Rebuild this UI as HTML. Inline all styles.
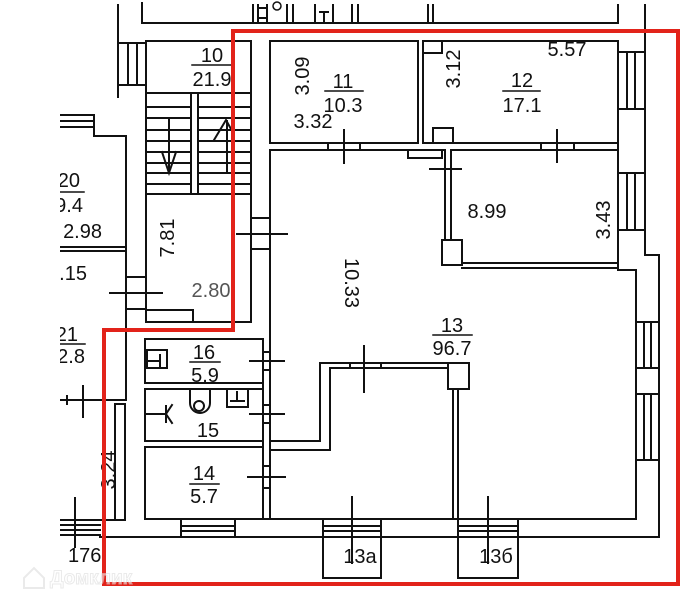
<!DOCTYPE html>
<html><head><meta charset="utf-8"><style>
html,body{margin:0;padding:0;background:#fff;}
svg{display:block;}
text{font-family:"Liberation Sans",Arial,sans-serif;font-size:20px;fill:#111;}
</style></head><body>
<svg width="695" height="600" viewBox="0 0 695 600" xmlns="http://www.w3.org/2000/svg">
<rect width="695" height="600" fill="#fff"/>
<g stroke="#111" stroke-width="2" fill="none" stroke-linecap="square">
<!-- top strip -->
<path d="M142 3 V23 H618 M618 5 V23 M253 5 V23 M258 5 V23 M267 5 V23 M287 5 V23 M293 5 V23 M258 8 H267 M258 18 H267 M315 5 V23 M333 5 V23 M320 12 H328 M324 12 V22 M352 5 V23 M358 5 V23 M428 5 V23 M433 5 V23"/>
<circle cx="277" cy="6" r="4" stroke-width="1.5"/>
<!-- outer right walls -->
<path d="M645 5 V255 H659 V537 M618 41 V270 H636 V519"/>
<!-- rooms 11, 12 -->
<path d="M270 143 V41 H418 V143 M423 143 V41 H618 M270 143 H418 M423 143 H618 M270 150 H445 M451 150 H618"/>
<path d="M328 143 V150 M360 143 V150 M541 143 V150 M574 143 V150 M344 130 V163 M557 130 V162"/>
<rect x="408" y="150" width="34" height="8"/>
<rect x="423" y="41" width="19" height="12"/>
<rect x="433" y="128" width="20" height="15"/>
<!-- 8.99 room -->
<path d="M445 150 V240 M451 150 V240 M462 263 H618 M462 268 H618 M430 169 H461"/>
<rect x="442" y="240" width="20" height="25"/>
<!-- stair room -->
<path d="M146 41 H251 M146 41 V322 M251 41 V322 M146 322 H251 M118 5 V97 M118 43 H146 M118 85 H146 M128 43 V85 M137 43 V85"/>
<path d="M146 93 H251 M146 107 H251 M146 118 H251 M146 130 H251 M146 141 H251 M146 152 H251 M146 163 H251 M146 173 H251 M146 184 H251 M146 194 H251"/>
<rect x="191" y="93" width="7" height="101" fill="#fff"/>
<path d="M169 118 V173 M162 152 L169 173 L176 152 M227 173 V121 M214 140 L226 120 L231 129"/>
<path d="M146 310 H193 V322"/>
<path d="M251 218 H270 M251 249 H270 M237 234 H287"/>
<!-- left side -->
<path d="M126 136 V400 M94 136 H126 M94 115 V136 M61 115 H94 M61 121 H94 M61 127 H94"/>
<path d="M60 247 H126 M60 251 H126 M126 277 H146 M126 309 H146 M110 293 H162"/>
<path d="M60 400 H126 M83 386 V417 M67 396 V404"/>
<path d="M115 404 V520 M125 404 V520 M115 404 H125 M61 520 H125 M61 525 H100 M61 530 H100 M61 535 H100 M75 498 V547"/>
<path d="M100 537 H659"/>
<!-- room stack -->
<rect x="145" y="339" width="118" height="44"/>
<rect x="145" y="389" width="118" height="52"/>
<rect x="145" y="447" width="118" height="72"/>
<path d="M263 339 V519 M270 150 V519 M263 352 H270 M263 370 H270 M263 405 H270 M263 423 H270 M263 466 H270 M263 488 H270"/>
<path d="M250 361 H284 M250 414 H284 M248 477 H285"/>
<path d="M263 519 H636"/>
<!-- partition in 13 -->
<path d="M270 441 H320 V363 H448 M270 450 H330 V368 H448 M350 363 V368 M381 363 V368 M364 346 V392"/>
<rect x="448" y="363" width="21" height="26"/>
<path d="M453 389 V519 M458 389 V519"/>
<!-- bottom windows / doors -->
<path d="M181 519 V537 M235 519 V537 M181 526 H235 M181 531 H235"/>
<path d="M323 519 V578 H381 V519 M323 526 H381 M323 531 H381 M352 497 V563"/>
<path d="M458 519 V578 H518 V519 M458 526 H518 M458 531 H518 M488 497 V563"/>
<!-- right windows -->
<path d="M618 52 H645 M618 109 H645 M627 52 V109 M635 52 V109 M618 173 H645 M618 230 H645 M627 173 V230 M635 173 V230"/>
<path d="M636 322 H659 M636 368 H659 M644 322 V368 M651 322 V368 M636 394 H659 M636 460 H659 M644 394 V460 M651 394 V460"/>
<!-- fixtures -->
<rect x="147" y="350" width="20" height="18"/>
<path d="M147 361 H160 M160 355 V366"/>
<path d="M190 389 V403 A10 10 0 0 0 210 403 V389"/>
<circle cx="199" cy="406" r="5"/>
<rect x="227" y="389" width="21" height="18"/>
<path d="M237 392 V401 M231 401 H244 M147 414 H165 M166 406 V422 M172 405 L166 414 L172 423"/>
<!-- fraction lines -->
<path stroke-width="1.5" d="M192 65 H232 M325 91 H363 M503 91 H540 M433 335 H472 M190 362 H220 M190 484 H219 M60 192 H84 M60 344 H85"/>
</g>
<!-- labels -->
<text x="212" y="62" text-anchor="middle">10</text>
<text x="212" y="86" text-anchor="middle">21.9</text>
<text transform="translate(302,76) rotate(-90)" y="7" text-anchor="middle">3.09</text>
<text x="343" y="88" text-anchor="middle">11</text>
<text x="343" y="112" text-anchor="middle">10.3</text>
<text x="313" y="128" text-anchor="middle">3.32</text>
<text transform="translate(453,69) rotate(-90)" y="7" text-anchor="middle">3.12</text>
<text x="567" y="56" text-anchor="middle">5.57</text>
<text x="522" y="87" text-anchor="middle">12</text>
<text x="522" y="112" text-anchor="middle">17.1</text>
<text x="487" y="218" text-anchor="middle">8.99</text>
<text transform="translate(603,220) rotate(-90)" y="7" text-anchor="middle">3.43</text>
<text transform="translate(167,238) rotate(-90)" y="7" text-anchor="middle">7.81</text>
<text x="211" y="297" text-anchor="middle" style="fill:#555">2.80</text>
<text transform="translate(352,283) rotate(90)" y="7" text-anchor="middle">10.33</text>
<text x="452" y="332" text-anchor="middle">13</text>
<text x="452" y="355" text-anchor="middle">96.7</text>
<text x="204" y="359" text-anchor="middle">16</text>
<text x="205" y="382" text-anchor="middle">5.9</text>
<text x="208" y="437" text-anchor="middle">15</text>
<text x="204" y="480" text-anchor="middle">14</text>
<text x="204" y="503" text-anchor="middle">5.7</text>
<text transform="translate(108,470) rotate(-90)" y="7" text-anchor="middle">3.24</text>
<text x="68" y="562">176</text>
<text x="360" y="563" text-anchor="middle">13а</text>
<text x="496" y="563" text-anchor="middle">13б</text>
<text x="80" y="187" text-anchor="end">20</text>
<text x="83" y="212" text-anchor="end">19.4</text>
<text x="102" y="238" text-anchor="end">2.98</text>
<text x="87" y="280" text-anchor="end">3.15</text>
<text x="78" y="341" text-anchor="end">21</text>
<text x="85" y="363" text-anchor="end">12.8</text>
<!-- left mask -->
<rect x="0" y="0" width="60" height="600" fill="#fff"/>
<!-- red outline -->
<polygon points="233,31 678,31 678,584 104,584 104,330 233,330" fill="none" stroke="#e2231a" stroke-width="4"/>
<!-- watermark -->
<g opacity="0.6">
<path d="M24 578 L34 568 L44 578 V588 H24 Z" fill="none" stroke="#ddd" stroke-width="2"/>
<text x="50" y="584" style="font-size:19px;font-weight:bold;fill:#fff;stroke:#ddd;stroke-width:1">Домклик</text>
</g>
</svg>
</body></html>
